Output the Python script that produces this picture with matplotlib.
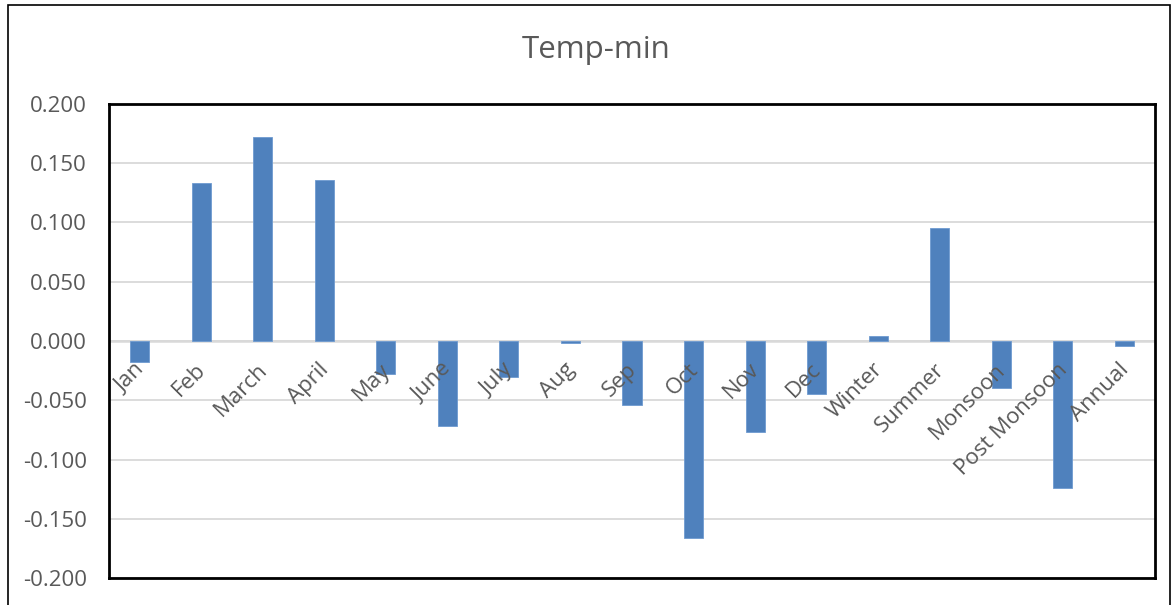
import matplotlib
matplotlib.use("Agg")
import matplotlib.pyplot as plt
from matplotlib.patches import Rectangle
from matplotlib.ticker import MultipleLocator, FormatStrFormatter
import matplotlib.transforms as mtransforms

categories = ["Jan", "Feb", "March", "April", "May", "June", "July", "Aug", "Sep",
              "Oct", "Nov", "Dec", "Winter", "Summer", "Monsoon", "Post Monsoon", "Annual"]
values = [-0.018, 0.133, 0.172, 0.136, -0.028, -0.072, -0.030, -0.002, -0.054,
          -0.166, -0.077, -0.045, 0.004, 0.095, -0.040, -0.124, -0.004]
title = "Temp-min"

W, H = 1173, 605
fig = plt.figure(figsize=(W / 100, H / 100), dpi=100)
fig.patch.set_facecolor("white")
plt.rcParams["font.family"] = ["Open Sans", "DejaVu Sans"]

text_color = "#595959"

# outer chart frame
fig.add_artist(Rectangle((8 / W, -0.05), (1170 - 8) / W, (H - 5) / H + 0.05,
                         transform=fig.transFigure, fill=False,
                         edgecolor="black", linewidth=1.2))

left, right, top, bottom = 109, 1155, 104, 578
ax = fig.add_axes([left / W, 1 - bottom / H, (right - left) / W, (bottom - top) / H])

x = list(range(len(categories)))
ax.bar(x, values, width=0.31, color="#4f81bd", edgecolor="#6f9bd0",
       linewidth=0.6, zorder=3)

ax.set_xlim(-0.5, len(categories) - 0.5)
ax.set_ylim(-0.2, 0.2)
ax.yaxis.set_major_locator(MultipleLocator(0.05))
ax.yaxis.set_major_formatter(FormatStrFormatter("%.3f"))
ax.grid(axis="y", color="#d9d9d9", linewidth=1.3, zorder=0)
ax.axhline(0, color="#d9d9d9", linewidth=1.8, zorder=1)

ax.set_xticks([])
ax.tick_params(axis="y", length=0, pad=16, labelsize=16, labelcolor=text_color)
for s in ax.spines.values():
    s.set_linewidth(2)
    s.set_color("black")

# category labels placed just under the zero line, rotated 45 degrees
offset = mtransforms.offset_copy(ax.transData, fig=fig, x=-6, y=-18, units="dots")
for xi, lab in zip(x, categories):
    ax.text(xi, 0, lab, transform=offset, rotation=45, rotation_mode="anchor",
            ha="right", va="top", fontsize=16, color=text_color, zorder=4)

fig.text(596 / W, 1 - 50 / H, title, ha="center", va="center",
         fontsize=22.5, color=text_color)

fig.savefig("out.png", dpi=100)
